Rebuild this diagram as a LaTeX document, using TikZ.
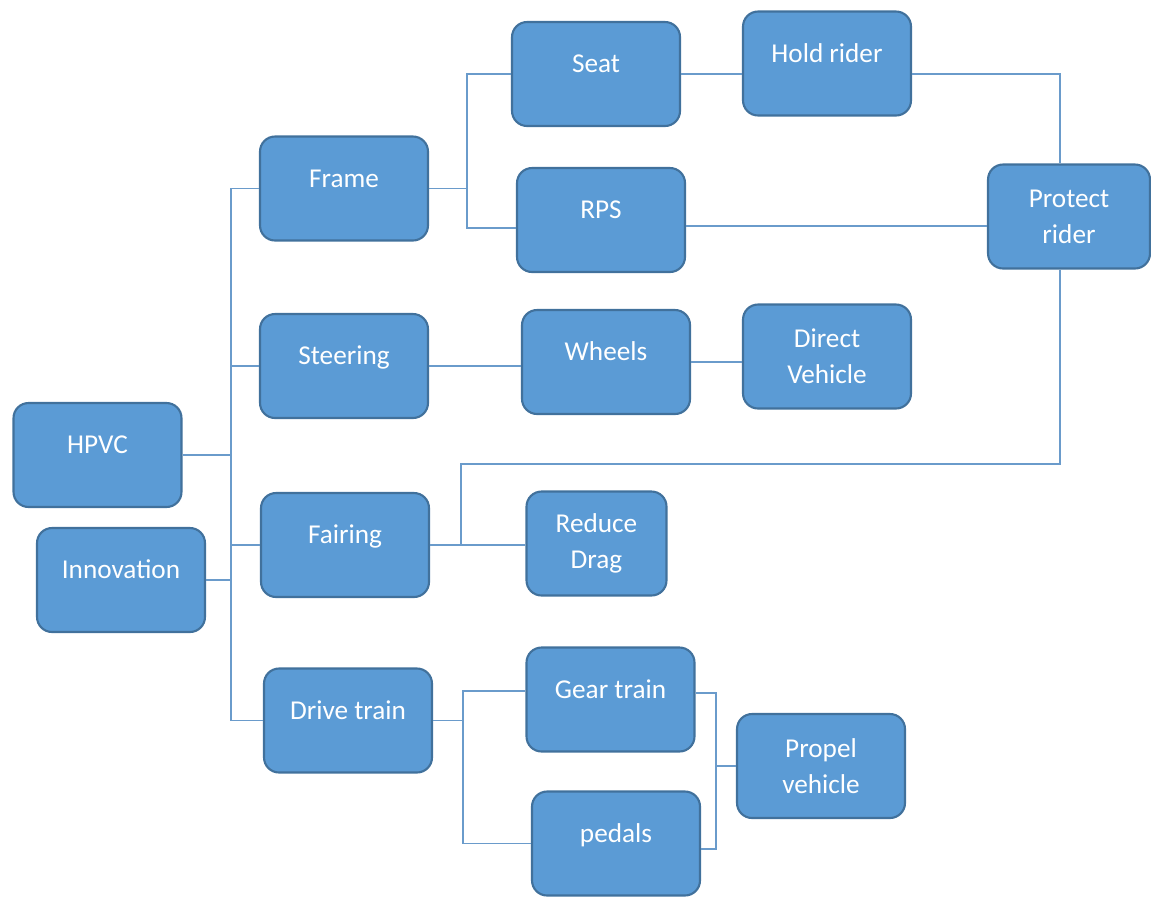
\documentclass[tikz,border=0pt]{standalone}
\usepackage{fontspec}
\setmainfont{Carlito}
\usetikzlibrary{calc}
\definecolor{boxfill}{HTML}{5B9BD5}
\definecolor{boxline}{HTML}{41719C}
\definecolor{linkcol}{HTML}{6A9BCB}
\tikzset{
    block/.style={draw=boxline, fill=boxfill, line width=1.2pt,
                  rounded corners=0.3cm, minimum width=3.36cm,
                  minimum height=2.08cm, inner sep=2pt, align=center,
                  text=white},
    oneline/.style={text height=0.7em, text depth=0.87em},
    link/.style={draw=linkcol, line width=0.8pt},
}

\begin{document}
\begin{tikzpicture}[x=0.02cm, y=-0.02cm, font=\fontsize{15.5pt}{20.5pt}\selectfont]
    \path[use as bounding box] (0,0) rectangle (1151,896);

    \node[block, oneline] (hpvc) at (97.5,455) {HPVC};
    \node[block, oneline] (innovation) at (121,580) {Innovation};

    \node[block, oneline] (frame) at (344,188.5) {Frame};
    \node[block, oneline] (steering) at (344,366) {Steering};
    \node[block, oneline] (fairing) at (345,545) {Fairing};
    \node[block, oneline] (drivetrain) at (348,720.5) {Drive train};

    \node[block, oneline] (seat) at (596,74) {Seat};
    \node[block, oneline] (rps) at (601,220) {RPS};
    \node[block, oneline] (wheels) at (606,362) {Wheels};
    \node[block, minimum width=2.8cm] (reducedrag) at (596.5,543.5) {Reduce\\Drag};
    \node[block, oneline] (geartrain) at (610.5,699.5) {Gear train};
    \node[block, oneline] (pedals) at (616,843.5) {pedals};

    \node[block, oneline] (holdrider) at (827,63.5) {Hold rider};
    \node[block] (directvehicle) at (827,356.5) {Direct\\Vehicle};
    \node[block] (propelvehicle) at (821,766) {Propel\\vehicle};
    \node[block, minimum width=3.24cm] (protectrider) at (1069,216.5) {Protect\\rider};

    \coordinate (trunk) at (231,450);
    \draw[link] (frame.west) -| (trunk) |- (drivetrain.west);
    \draw[link] (steering.west) -- (steering.west -| trunk);
    \draw[link] (fairing.west) -- (fairing.west -| trunk);
    \draw[link] (hpvc.east) -- (hpvc.east -| trunk);
    \draw[link] (innovation.east) -- (innovation.east -| trunk);

    \coordinate (framebus) at (467,150);
    \draw[link] (seat.west) -| (framebus) |- ([yshift=-0.16cm]rps.west);
    \draw[link] (frame.east) -- (frame.east -| framebus);
    \draw[link] (seat.east) -- (seat.east -| holdrider.west);
    \draw[link] (holdrider.east |- seat.east) -| ([xshift=-0.18cm]protectrider.north);
    \draw[link] ([yshift=-0.12cm]rps.east) -- ([yshift=-0.12cm]rps.east -| protectrider.west);

    \coordinate (loopturn) at (461,464);
    \draw[link] ([xshift=-0.18cm]protectrider.south) |- (loopturn) -- (loopturn |- fairing.east);
    \draw[link] (fairing.east) -- (fairing.east -| reducedrag.west);

    \draw[link] (steering.east) -- (steering.east -| wheels.west);
    \draw[link] (wheels.east) -- (wheels.east -| directvehicle.west);

    \coordinate (drivebus) at (463,760);
    \draw[link] ([yshift=0.17cm]geartrain.west) -| (drivebus) |- (pedals.west);
    \draw[link] (drivetrain.east) -- (drivetrain.east -| drivebus);
    \coordinate (propelbus) at (716,760);
    \draw[link] ([yshift=0.13cm]geartrain.east) -| (propelbus) |- ([yshift=-0.11cm]pedals.east);
    \draw[link] (propelvehicle.west) -- (propelvehicle.west -| propelbus);
\end{tikzpicture}
\end{document}
